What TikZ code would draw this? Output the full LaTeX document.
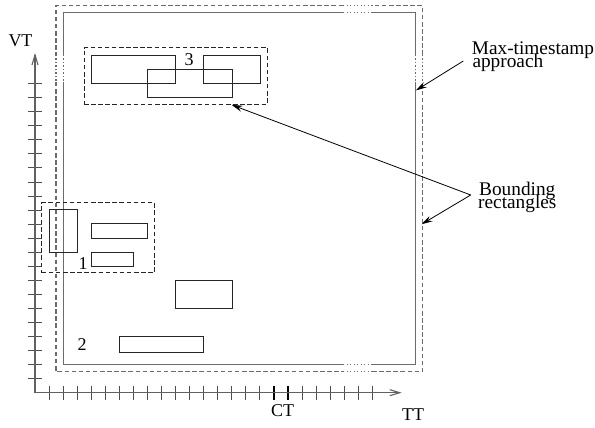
\documentclass[tikz,border=0pt]{standalone}
\usepackage{fontspec}
\setmainfont{Liberation Serif}
\usetikzlibrary{arrows.meta}

\definecolor{framegray}{gray}{0.42}
\definecolor{axisgray}{gray}{0.38}

\tikzset{
  lbl/.style={inner sep=0pt, font=\fontsize{18}{18}\selectfont},
  note/.style={inner sep=0pt, font=\fontsize{19.3}{19.3}\selectfont},
  box/.style={draw=black!85, line width=0.9pt, inner sep=0pt},
  grpbox/.style={draw=black!85, line width=0.9pt, dash pattern=on 4.5pt off 2.6pt, inner sep=0pt},
  solidframe/.style={draw=framegray, line width=1.1pt},
  dashframe/.style={draw=framegray, line width=1.1pt, dash pattern=on 4.5pt off 2.6pt},
  dotframe/.style={draw=framegray, line width=1.1pt, dash pattern=on 1.2pt off 2.3pt},
  axisline/.style={draw=axisgray, line width=1.1pt},
  tickmark/.style={draw=axisgray!80!black, line width=0.9pt},
  cttick/.style={draw=black, line width=2.2pt},
  callout/.style={draw=black, line width=0.8pt, -{Stealth[length=11pt,width=6pt]}},
  axisarrow/.style={-{Straight Barb[length=10pt,width=6pt]}},
}

\begin{document}
\begin{tikzpicture}[x=1pt, y=-1pt]
\useasboundingbox (0,0) rectangle (595,428);

% ---- time axes ----
\coordinate (O) at (35,392.7);
\coordinate (vtend) at (35,53);
\coordinate (ttend) at (401.7,392.7);
\foreach \i in {1,...,22}
  \draw[tickmark] (28,{392.7-14.05*\i}) -- (42,{392.7-14.05*\i});
\foreach \i in {1,...,24}
  \draw[tickmark] ({35+14.05*\i},386) -- ({35+14.05*\i},399.5);
\foreach \i in {17,18}
  \draw[cttick] ({35+14.05*\i},386) -- ({35+14.05*\i},399.5);
\draw[axisline, axisarrow] (O) -- (vtend);
\draw[axisline, axisarrow] (O) -- (ttend);
\node[lbl, anchor=base] (vt) at (20.5,46.7) {VT};
\node[lbl, anchor=base] (tt) at (413,420.7) {TT};
\node[lbl, anchor=base] (ct) at (282.5,416.7) {CT};

% ---- max-timestamp frame (solid) with dotted breaks ----
\draw[solidframe] (343,12.7) -- (63.3,12.7) -- (63.3,55);
\draw[solidframe] (63.3,82) -- (63.3,364.3) -- (343,364.3);
\draw[solidframe] (372,364.3) -- (415.3,364.3) -- (415.3,82);
\draw[solidframe] (415.3,55) -- (415.3,12.7) -- (372,12.7);
\draw[dotframe] (343,12.7) -- (372,12.7);
\draw[dotframe] (343,364.3) -- (372,364.3);
\draw[dotframe] (63.3,55) -- (63.3,82);
\draw[dotframe] (415.3,55) -- (415.3,82);

% ---- bounding frame (dashed) with dotted breaks ----
\draw[dashframe] (343,5.7) -- (56,5.7) -- (56,55);
\draw[dashframe] (56,82) -- (56,371.7) -- (343,371.7);
\draw[dashframe] (372,371.7) -- (422.3,371.7) -- (422.3,82);
\draw[dashframe] (422.3,55) -- (422.3,5.7) -- (372,5.7);
\draw[dotframe] (343,5.7) -- (372,5.7);
\draw[dotframe] (343,371.7) -- (372,371.7);
\draw[dotframe] (56,55) -- (56,82);
\draw[dotframe] (422.3,55) -- (422.3,82);

% ---- group 3 ----
\node[grpbox, minimum width=183.3pt, minimum height=56.3pt] (g3) at (175.65,75.85) {};
\node[box, minimum width=84.4pt, minimum height=28pt] (r3a) at (133.5,69) {};
\node[box, minimum width=84.7pt, minimum height=28pt] (r3b) at (189.65,83) {};
\node[box, minimum width=56.3pt, minimum height=28pt] (r3c) at (231.85,69) {};
\node[lbl, anchor=base] (n3) at (189,65.7) {3};

% ---- group 1 ----
\node[grpbox, minimum width=112.6pt, minimum height=70pt] (g1) at (98,237.7) {};
\node[box, minimum width=28pt, minimum height=42.3pt] (r1a) at (63,230.85) {};
\node[box, minimum width=56pt, minimum height=14.3pt] (r1b) at (119.3,230.85) {};
\node[box, minimum width=42pt, minimum height=14pt] (r1c) at (112.3,259) {};
\node[lbl, anchor=base] (n1) at (83,269) {1};

% ---- remaining rectangles ----
\node[box, minimum width=56.3pt, minimum height=28.3pt] (rmid) at (203.85,294.15) {};
\node[box, minimum width=84.4pt, minimum height=15.7pt] (r2) at (161.5,344.15) {};
\node[lbl, anchor=base] (n2) at (82,350.7) {2};

% ---- annotations ----
\node[note, anchor=base west] (mt1) at (471.7,55) {Max-timestamp};
\node[note, anchor=base west] (mt2) at (472.3,67.5) {approach};
\node[note, anchor=base west] (br1) at (479,195.5) {Bounding};
\node[note, anchor=base west] (br2) at (478,208) {rectangles};

\coordinate (mtfrom) at (463.3,61);
\coordinate (mtto) at (415.8,90.5);
\coordinate (brfrom) at (470.7,195);
\coordinate (brto1) at (231.5,104.8);
\coordinate (brto2) at (421.5,224.3);
\draw[callout] (mtfrom) -- (mtto);
\draw[callout] (brfrom) -- (brto1);
\draw[callout] (brfrom) -- (brto2);
\end{tikzpicture}
\end{document}
